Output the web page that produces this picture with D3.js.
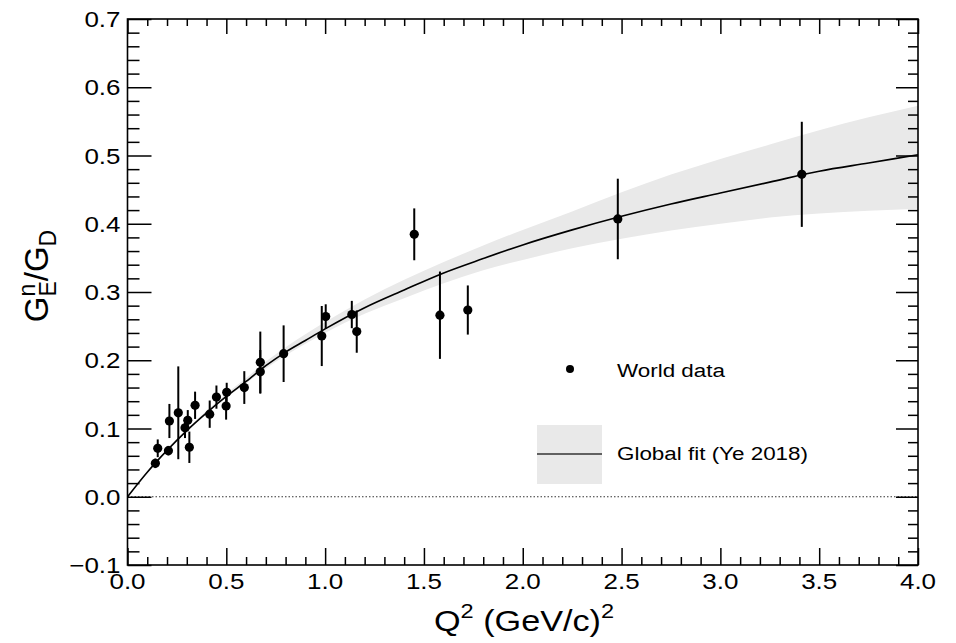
<!DOCTYPE html>
<html><head><meta charset="utf-8">
<script src="https://cdn.jsdelivr.net/npm/d3@7"></script>
<style>
body{margin:0;background:#fff}
svg{display:block}
text{font-family:"Liberation Sans",Arial,Helvetica,sans-serif;fill:#000}
</style>
</head><body>
<svg id="c" width="956" height="643"></svg>
<script>
// ---- data ----
const qData = [0.141,0.153,0.207,0.212,0.257,0.291,0.305,0.313,0.342,0.416,0.450,0.502,0.499,0.591,0.672,0.672,0.790,0.983,1.003,1.135,1.160,1.451,1.581,1.722,2.481,3.412];
const gData = [0.049,0.071,0.0675,0.111,0.123,0.101,0.112,0.0725,0.134,0.121,0.146,0.153,0.133,0.160,0.183,0.197,0.2096,0.2355,0.264,0.267,0.242,0.3845,0.266,0.2736,0.407,0.4724];
const gErr  = [0.007,0.013,0.007,0.025,0.068,0.015,0.015,0.023,0.020,0.020,0.017,0.014,0.020,0.024,0.032,0.045,0.0415,0.044,0.018,0.020,0.031,0.038,0.064,0.036,0.059,0.077];

const qFit   = [0,0.1,0.2,0.3,0.4,0.5,0.6,0.7,0.8,0.9,1.0,1.2,1.4,1.6,1.8,2.0,2.25,2.5,2.75,3.0,3.25,3.5,3.75,4.0];
const gFit   = [0,0.036,0.068,0.097,0.123,0.147,0.169,0.192,0.212,0.229,0.246,0.277,0.303,0.328,0.349,0.369,0.391,0.411,0.429,0.445,0.461,0.477,0.489,0.501];
const gFitHi = [0,0.037,0.069,0.099,0.126,0.151,0.174,0.198,0.219,0.238,0.256,0.289,0.318,0.344,0.368,0.391,0.418,0.446,0.472,0.495,0.516,0.537,0.556,0.573];
const gFitLo = [0,0.035,0.067,0.096,0.122,0.145,0.166,0.188,0.207,0.224,0.240,0.268,0.291,0.313,0.332,0.347,0.364,0.378,0.390,0.400,0.409,0.415,0.419,0.422];

const xMajor = [0,0.5,1.0,1.5,2.0,2.5,3.0,3.5,4.0];
const xLabels = ["0.0","0.5","1.0","1.5","2.0","2.5","3.0","3.5","4.0"];
const xMinor = [0.1,0.2,0.3,0.4,0.6,0.7,0.8,0.9,1.1,1.2,1.3,1.4,1.6,1.7,1.8,1.9,2.1,2.2,2.3,2.4,2.6,2.7,2.8,2.9,3.1,3.2,3.3,3.4,3.6,3.7,3.8,3.9];
const yMajor = [-0.1,0,0.1,0.2,0.3,0.4,0.5,0.6,0.7];
const yLabels = ["\u22120.1","0.0","0.1","0.2","0.3","0.4","0.5","0.6","0.7"];
const yMinor = [-0.08,-0.06,-0.04,-0.02,0.02,0.04,0.06,0.08,0.12,0.14,0.16,0.18,0.22,0.24,0.26,0.28,0.32,0.34,0.36,0.38,0.42,0.44,0.46,0.48,0.52,0.54,0.56,0.58,0.62,0.64,0.66,0.68];

const legendLabels = ["World data","Global fit (Ye 2018)"];

// ---- drawing ----
const W = 956, H = 643;
const L = 127.5, R = 918, T = 19, B = 565;
const SX = 1.18; // horizontal stretch of text as in reference
const x = d3.scaleLinear().domain([0,4]).range([L,R]);
const y = d3.scaleLinear().domain([-0.1,0.7]).range([B,T]);
const svg = d3.select("#c");
svg.append("rect").attr("width",W).attr("height",H).attr("fill","#fff");

// band
const bandData = qFit.map((q,i)=>({q, lo:gFitLo[i], hi:gFitHi[i]}));
svg.append("path").datum(bandData)
  .attr("d", d3.area().x(d=>x(d.q)).y0(d=>y(d.lo)).y1(d=>y(d.hi)).curve(d3.curveMonotoneX))
  .attr("fill","#e9e9e9");

// zero line
svg.append("line").attr("x1",x(0)).attr("x2",x(4)).attr("y1",y(0)).attr("y2",y(0))
  .attr("stroke","#333").attr("stroke-width",1).attr("stroke-dasharray","1.5,2");

// fit curve
const fitData = qFit.map((q,i)=>({q, g:gFit[i]}));
svg.append("path").datum(fitData)
  .attr("d", d3.line().x(d=>x(d.q)).y(d=>y(d.g)).curve(d3.curveMonotoneX))
  .attr("fill","none").attr("stroke","#000").attr("stroke-width",1.6);

// error bars & points
const pts = qData.map((q,i)=>({q, g:gData[i], e:gErr[i]}));
svg.append("g").selectAll("line").data(pts).join("line")
  .attr("x1",d=>x(d.q)).attr("x2",d=>x(d.q))
  .attr("y1",d=>y(d.g-d.e)).attr("y2",d=>y(d.g+d.e))
  .attr("stroke","#000").attr("stroke-width",2);
svg.append("g").selectAll("circle").data(pts).join("circle")
  .attr("cx",d=>x(d.q)).attr("cy",d=>y(d.g)).attr("r",4.6).attr("fill","#000");

// axes ticks
function tickAxis(axis, tr, vals, size){
  const g = svg.append("g").attr("transform",tr)
    .call(axis.tickValues(vals).tickSize(size).tickFormat(""));
  g.select(".domain").remove();
  g.selectAll("line").attr("stroke","#000").attr("stroke-width",1.5);
}
tickAxis(d3.axisBottom(x), `translate(0,${B})`, xMajor, -17);
tickAxis(d3.axisBottom(x), `translate(0,${B})`, xMinor, -8);
tickAxis(d3.axisTop(x), `translate(0,${T})`, xMajor, -15);
tickAxis(d3.axisTop(x), `translate(0,${T})`, xMinor, -7);
tickAxis(d3.axisLeft(y), `translate(${L},0)`, yMajor, -24);
tickAxis(d3.axisLeft(y), `translate(${L},0)`, yMinor, -12);
tickAxis(d3.axisRight(y), `translate(${R},0)`, yMajor, -22);
tickAxis(d3.axisRight(y), `translate(${R},0)`, yMinor, -10);

// frame
svg.append("rect").attr("x",L).attr("y",T).attr("width",R-L).attr("height",B-T)
  .attr("fill","none").attr("stroke","#000").attr("stroke-width",1.6);

// tick labels
svg.append("g").selectAll("text").data(xMajor).join("text")
  .attr("transform",(d)=>`translate(${x(d)},${B+24}) scale(${SX},1)`)
  .attr("text-anchor","middle").attr("font-size",22)
  .text((d,i)=>xLabels[i]);
svg.append("g").selectAll("text").data(yMajor).join("text")
  .attr("transform",(d)=>`translate(${L-7},${y(d)+8}) scale(${SX},1)`)
  .attr("text-anchor","end").attr("font-size",22)
  .text((d,i)=>yLabels[i]);

// x title
const xt = svg.append("text").attr("transform",`translate(524,631) scale(${SX},1)`)
  .attr("text-anchor","middle").attr("font-size",29);
xt.append("tspan").text("Q");
xt.append("tspan").attr("font-size",20).attr("dy",-13).text("2");
xt.append("tspan").attr("dy",13).text(" (GeV/c)");
xt.append("tspan").attr("font-size",20).attr("dy",-13).text("2");

// y title (rotated)
const yt = svg.append("g").attr("transform","translate(48,276) rotate(-90)");
const pieces = [
  {t:"G", s:33, dy:0, adv:true},
  {t:"n", s:23, dy:-13, adv:false},
  {t:"E", s:23, dy:8, adv:true},
  {t:"/G", s:33, dy:0, adv:true},
  {t:"D", s:23, dy:8, adv:true}
];
let cx = 0, lastW = 0;
pieces.forEach(p=>{
  const t = yt.append("text").attr("font-size",p.s).attr("x",cx).attr("y",p.dy).text(p.t);
  const w = t.node().getComputedTextLength();
  if(p.adv){ cx += Math.max(w,lastW); lastW = 0; } else { lastW = w; }
});
yt.selectAll("text").attr("transform",`translate(${-cx/2},0)`);

// legend
svg.append("circle").attr("cx",570).attr("cy",369).attr("r",4).attr("fill","#000");
svg.append("text").attr("transform",`translate(617,377) scale(${SX},1)`).attr("font-size",19).text(legendLabels[0]);
svg.append("rect").attr("x",537).attr("y",425).attr("width",65).attr("height",59).attr("fill","#e9e9e9");
svg.append("line").attr("x1",537).attr("x2",602).attr("y1",454).attr("y2",454).attr("stroke","#333").attr("stroke-width",1.5);
svg.append("text").attr("transform",`translate(617,460) scale(${SX},1)`).attr("font-size",19).text(legendLabels[1]);
</script>
</body></html>
